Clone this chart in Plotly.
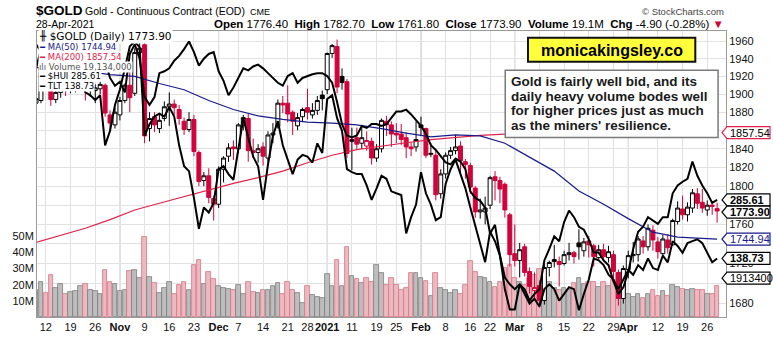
import numpy as np
import pandas as pd
import plotly.graph_objects as go

# ---------------- trading calendar (CME gold, EOD) ----------------
holidays = {"2020-11-26", "2020-12-25", "2021-01-01", "2021-01-18", "2021-02-15", "2021-04-02"}
dates = [d.strftime("%Y-%m-%d") for d in pd.bdate_range("2020-10-08", "2021-04-28")
         if d.strftime("%Y-%m-%d") not in holidays]

# ---------------- $GOLD daily OHLC ----------------
open_ = [1890, 1893, 1928, 1925, 1894, 1902, 1908, 1905, 1912, 1914, 1928, 1904, 1904, 1906, 1910, 1877, 1866,
         1877, 1893, 1910, 1901, 1947, 1956, 1862, 1875, 1862, 1873, 1886, 1889, 1883, 1870, 1861, 1872, 1836, 1806, 1811, 1787,
         1781, 1818, 1832, 1842, 1840, 1866, 1873, 1838, 1836, 1842, 1830, 1855, 1864, 1890, 1890, 1880, 1865, 1875, 1885, 1877, 1882, 1899,
         1905, 1946, 1954, 1920, 1914, 1848, 1852, 1846, 1843, 1848, 1830, 1840, 1870, 1866, 1857, 1856, 1852, 1842, 1842,
         1866, 1862, 1834, 1833, 1792, 1813, 1833, 1838, 1843, 1826, 1822, 1798, 1773, 1773, 1780, 1810, 1806, 1802, 1770,
         1730, 1723, 1737, 1712, 1693, 1698, 1683, 1716, 1724, 1722, 1720, 1729, 1731, 1741, 1733, 1743, 1738, 1726, 1734, 1726, 1729, 1711, 1685,
         1714, 1728, 1729, 1743, 1737, 1754, 1742, 1730, 1744, 1739, 1763, 1776, 1770, 1777, 1792, 1783, 1775, 1780, 1776.4]
high = [1903, 1933, 1934, 1929, 1910, 1912, 1912, 1925, 1918, 1933, 1930, 1915, 1911, 1914, 1912, 1882, 1885,
        1897, 1912, 1925, 1952, 1965, 1967, 1880, 1880, 1878, 1892, 1902, 1894, 1888, 1874, 1880, 1877, 1838, 1815, 1819, 1790,
        1821, 1832, 1846, 1849, 1868, 1877, 1878, 1851, 1845, 1847, 1859, 1868, 1894, 1898, 1910, 1882, 1879, 1885, 1906, 1890, 1898, 1904,
        1947, 1957, 1962, 1929, 1917, 1863, 1863, 1866, 1859, 1852, 1845, 1873, 1876, 1870, 1868, 1867, 1858, 1847, 1870,
        1875, 1863, 1846, 1838, 1818, 1836, 1842, 1855, 1848, 1829, 1825, 1800, 1787, 1789, 1811, 1816, 1810, 1804, 1772,
        1760, 1741, 1740, 1716, 1711, 1703, 1720, 1723, 1739, 1727, 1733, 1741, 1733, 1755, 1746, 1748, 1740, 1739, 1740, 1738, 1733, 1714, 1718,
        1733, 1742, 1748, 1748, 1760, 1759, 1747, 1749, 1750, 1766, 1784, 1790, 1783, 1797, 1798, 1797, 1785, 1783, 1782.7]
low = [1882, 1890, 1915, 1887, 1890, 1896, 1898, 1901, 1902, 1905, 1893, 1897, 1890, 1900, 1875, 1860, 1862,
       1871, 1890, 1880, 1898, 1940, 1846, 1848, 1858, 1857, 1870, 1865, 1877, 1866, 1855, 1858, 1832, 1800, 1800, 1782, 1764,
       1777, 1804, 1826, 1828, 1835, 1860, 1826, 1830, 1825, 1822, 1826, 1846, 1862, 1879, 1869, 1855, 1860, 1870, 1872, 1873, 1877, 1882,
       1900, 1941, 1901, 1905, 1830, 1817, 1840, 1840, 1838, 1823, 1826, 1836, 1854, 1842, 1846, 1844, 1830, 1832, 1837,
       1854, 1830, 1831, 1785, 1787, 1808, 1829, 1834, 1815, 1808, 1792, 1767, 1766, 1760, 1776, 1785, 1782, 1767, 1717,
       1717, 1706, 1707, 1690, 1685, 1676, 1679, 1707, 1716, 1697, 1718, 1723, 1720, 1724, 1727, 1726, 1717, 1723, 1722, 1721, 1705, 1678, 1680,
       1705, 1721, 1722, 1730, 1733, 1733, 1725, 1728, 1730, 1738, 1760, 1765, 1763, 1772, 1776, 1772, 1769, 1770, 1761.8]
close = [1895, 1930, 1926, 1894, 1902, 1908, 1906, 1912, 1916, 1929, 1905, 1906, 1907, 1911, 1879, 1868, 1880,
         1893, 1910, 1896, 1947, 1952, 1854, 1873, 1866, 1871, 1886, 1889, 1885, 1873, 1861, 1872, 1837, 1805, 1811, 1788, 1781,
         1818, 1830, 1841, 1840, 1866, 1874, 1838, 1836, 1840, 1832, 1855, 1857, 1890, 1888, 1878, 1870, 1874, 1883, 1880, 1882, 1893, 1895,
         1946, 1955, 1908, 1913, 1835, 1850, 1845, 1852, 1849, 1830, 1840, 1871, 1866, 1856, 1855, 1850, 1842, 1840, 1850,
         1863, 1833, 1835, 1791, 1813, 1833, 1838, 1842, 1827, 1823, 1799, 1773, 1775, 1777, 1809, 1806, 1797, 1775, 1729,
         1723, 1734, 1711, 1697, 1696, 1683, 1716, 1721, 1722, 1719, 1729, 1731, 1727, 1737, 1742, 1739, 1727, 1734, 1727, 1732, 1712, 1685, 1715,
         1728, 1729, 1745, 1737, 1756, 1744, 1732, 1745, 1736, 1764, 1777, 1770, 1778, 1793, 1782, 1777, 1780, 1778.8, 1773.9]

# daily volume, millions of contracts
volume_m = [17, 22, 15, 26, 18, 20.6, 14, 15.5, 16, 19.5, 20.5, 16.5, 16, 14.5, 29, 22, 20.5,
            16, 17, 28.4, 29, 24, 49.4, 25, 21, 15, 18, 22, 14, 20, 21.5, 17, 32, 35.4, 20.5, 28, 23.5,
            19, 18, 17.5, 16.5, 20, 14.5, 22, 15.5, 15, 16.5, 16.5, 19, 21, 14.5, 22, 16.5, 15, 8.5, 19, 13.5, 12.5, 12,
            26.5, 19.5, 35.4, 19.5, 43.4, 25.5, 23.5, 21, 24.5, 22, 32.5, 27, 20, 24, 20, 16.5, 18, 27, 27,
            24, 22.5, 13, 27, 18, 17, 15, 17, 14, 20, 34.6, 28, 25, 24.5, 22, 18.5, 22, 30.5, 32,
            24, 22, 20, 24, 26, 30, 24, 22, 18, 17, 18, 16.5, 21, 24.5, 20.5, 22, 21.5, 18.5, 22, 19, 23, 27, 20.5,
            14, 12.5, 14.5, 11.7, 14, 16.5, 13, 16, 13, 19.6, 18.5, 17.5, 17, 17.5, 16.5, 17, 14, 14.5, 19.134]

# overlays: gold miners index and 20+yr Treasury ETF
hui = [339.0, 346.8, 344.9, 335.9, 338.3, 335.1, 333.2, 330.5, 332.0, 337.1, 329.3, 328.1, 326.2, 328.1, 307.8, 313.7, 324.2,
       330.5, 339.0, 348.0, 350.0, 347.6, 311.7, 316.4, 319.5, 320.7, 319.5, 323.4, 319.5, 307.8, 299.3, 297.3, 286.4, 273.9, 282.5, 280.5, 284.4,
       298.1, 299.3, 296.1, 293.8, 307.1, 318.8, 311.0, 303.2, 299.3, 285.6, 300.0, 311.7, 317.6, 307.8, 302.0, 296.1, 302.0, 303.9, 303.2, 300.8, 308.6, 304.7,
       326.6, 328.1, 318.8, 313.7, 298.1, 296.9, 296.1, 296.1, 291.5, 285.6, 290.3, 295.4, 294.2, 289.1, 288.3, 287.6, 272.0, 278.6, 283.7,
       296.9, 288.3, 283.7, 277.4, 278.6, 292.2, 298.1, 302.0, 296.1, 290.3, 282.5, 274.7, 268.1, 260.3, 272.7, 268.8, 263.0, 249.3, 241.1,
       241.1, 251.3, 249.3, 244.7, 247.4, 249.3, 261.0, 265.7, 270.8, 268.8, 276.6, 281.3, 278.6, 274.7, 273.5, 269.6, 264.2, 264.2, 261.0, 259.1, 252.5, 247.4, 250.1,
       256.4, 265.7, 272.7, 274.7, 278.6, 277.4, 275.9, 278.6, 278.6, 288.3, 291.5, 293.0, 294.2, 301.2, 295.4, 291.5, 288.3, 284.4, 285.61]
tlt = [159.25, 158.60, 158.97, 160.35, 160.44, 160.17, 159.52, 159.06, 158.14, 156.95, 155.57, 156.03, 157.13, 158.14, 157.68, 156.03, 155.29,
       155.66, 154.65, 158.33, 159.25, 157.87, 154.19, 153.45, 154.19, 156.49, 156.67, 156.95, 157.68, 158.14, 158.79, 159.52, 158.51, 157.22, 157.87, 158.33, 158.51,
       156.67, 155.75, 154.37, 155.11, 156.03, 156.95, 156.76, 157.13, 157.31, 156.95, 156.49, 156.03, 155.57, 155.29, 156.21, 156.49, 155.57, 156.03, 156.21, 156.39, 156.49, 156.49,
       156.21, 155.57, 153.73, 151.61, 150.51, 150.32, 150.51, 151.43, 151.24, 151.61, 151.61, 151.43, 151.61, 152.16, 152.81, 152.81, 152.99, 152.53, 151.98,
       151.43, 150.69, 149.59, 149.13, 148.48, 147.93, 147.75, 148.30, 148.02, 147.29, 145.17, 144.53, 144.25, 143.61, 141.12, 141.95, 139.01, 136.89, 136.25,
       135.79, 136.25, 135.33, 134.41, 134.87, 134.13, 135.79, 136.25, 135.79, 134.68, 135.33, 135.97, 135.79, 133.76, 135.33, 136.71, 138.73, 138.55, 138.09, 137.17, 136.71, 135.79, 136.71,
       137.63, 137.17, 138.09, 137.63, 138.73, 137.81, 137.63, 139.01, 138.36, 140.39, 139.93, 139.28, 140.20, 140.39, 140.57, 140.20, 139.28, 138.36, 138.73]

# moving averages, weekly readings
ma_dates = ["2020-10-08", "2020-10-15", "2020-10-22", "2020-10-29", "2020-11-05", "2020-11-12", "2020-11-19", "2020-11-27",
            "2020-12-04", "2020-12-11", "2020-12-18", "2020-12-28", "2021-01-05", "2021-01-12", "2021-01-20", "2021-01-27",
            "2021-02-03", "2021-02-10", "2021-02-18", "2021-02-25", "2021-03-04", "2021-03-11", "2021-03-18", "2021-03-25",
            "2021-04-01", "2021-04-09", "2021-04-16", "2021-04-23", "2021-04-28"]
ma50 = [1930, 1928, 1926, 1922, 1920, 1912, 1905, 1893, 1883, 1876, 1872, 1869, 1868, 1866, 1862, 1857,
        1853, 1855, 1854, 1846, 1831, 1816, 1795, 1781, 1766, 1752, 1747, 1745.5, 1744.94]
ma200 = [1741.5, 1749, 1756, 1765, 1775, 1782, 1789, 1796.5, 1803, 1809, 1816, 1825, 1833, 1839, 1843, 1846.5,
         1850, 1852.5, 1854.5, 1856, 1857, 1857.8, 1858.3, 1858.6, 1858.7, 1858.5, 1858.2, 1857.8, 1857.54]

# x-axis labels
tick_dates = ["2020-10-12", "2020-10-19", "2020-10-26", "2020-11-02", "2020-11-09", "2020-11-16", "2020-11-23",
              "2020-12-01", "2020-12-07", "2020-12-14", "2020-12-21", "2020-12-28", "2021-01-04", "2021-01-11",
              "2021-01-19", "2021-01-25", "2021-02-01", "2021-02-08", "2021-02-16", "2021-02-22", "2021-03-01",
              "2021-03-08", "2021-03-15", "2021-03-22", "2021-03-29", "2021-04-01", "2021-04-12", "2021-04-19", "2021-04-26"]
tick_text = ["12", "19", "26", "<b>Nov</b>", "9", "16", "23", "<b>Dec</b>", "7", "14", "21", "28", "<b>2021</b>", "11",
             "19", "25", "<b>Feb</b>", "8", "16", "22", "<b>Mar</b>", "8", "15", "22", "29", "<b>Apr</b>", "12", "19", "26"]
month_starts = ["2020-11-02", "2020-12-01", "2021-01-04", "2021-02-01", "2021-03-01", "2021-04-01"]

# price scale; labels that sit under the value tags are left blank
price_ticks = list(range(1680, 1961, 20))
price_labels = ["" if v in (1700, 1740, 1780, 1860) else str(v) for v in price_ticks]

assert len(dates) == len(close) == len(volume_m) == len(hui) == len(tlt)

# ---------------- geometry helpers ----------------
W, H = 773, 345
ML, MR, MT, MB = 30, 47, 31, 16
PW, PH = W - ML - MR, H - MT - MB


def px(x):
    return (x - ML) / PW


def py(y):
    return 1 - (y - MT) / PH


RED = "#d0033a"
NAVY = "#1a1a8c"
MA_RED = "#e0224a"
AX_FONT = "Liberation Sans"

n = len(dates)
prev_close = [close[0]] + close[:-1]
up_day = [c >= p for c, p in zip(close, prev_close)]
hollow = [c >= o for c, o in zip(close, open_)]

fig = go.Figure()

# volume (base axis, drawn underneath)
fig.add_trace(go.Bar(
    x=dates, y=volume_m, yaxis="y", width=0.94,
    marker=dict(color=["#bdbdbd" if u else "#ebb9c0" for u in up_day],
                line=dict(color=["#7d7d7d" if u else "#d97384" for u in up_day], width=0.8)),
    hoverinfo="skip"))

# moving averages
fig.add_trace(go.Scatter(x=ma_dates, y=ma200, yaxis="y2", mode="lines",
                         line=dict(color=MA_RED, width=1.2), hoverinfo="skip"))
fig.add_trace(go.Scatter(x=ma_dates, y=ma50, yaxis="y2", mode="lines",
                         line=dict(color=NAVY, width=1.2), hoverinfo="skip"))


def candles(sel, line_color, fill):
    style = dict(line=dict(color=line_color, width=1), fillcolor=fill)
    return go.Candlestick(
        x=[dates[i] for i in sel], open=[open_[i] for i in sel], high=[high[i] for i in sel],
        low=[low[i] for i in sel], close=[close[i] for i in sel],
        increasing=style, decreasing=style, whiskerwidth=0, yaxis="y2", hoverinfo="skip")


fig.add_trace(candles([i for i in range(n) if hollow[i] and up_day[i]], "#000000", "#ffffff"))
fig.add_trace(candles([i for i in range(n) if hollow[i] and not up_day[i]], RED, "#ffffff"))
fig.add_trace(candles([i for i in range(n) if not hollow[i] and up_day[i]], "#000000", "#000000"))
fig.add_trace(candles([i for i in range(n) if not hollow[i] and not up_day[i]], RED, RED))

# overlays
fig.add_trace(go.Scatter(x=dates, y=hui, yaxis="y3", mode="lines",
                         line=dict(color="#000000", width=2), hoverinfo="skip"))
fig.add_trace(go.Scatter(x=dates, y=tlt, yaxis="y4", mode="lines",
                         line=dict(color="#000000", width=2), hoverinfo="skip"))

shapes = []
annotations = []

# darker month separators
for d in month_starts:
    k = dates.index(d)
    shapes.append(dict(type="line", xref="x", yref="paper", x0=k, x1=k, y0=0, y1=1,
                       line=dict(color="#b4b4b4", width=1), layer="below"))


def note(text, x, y, size=11, color="#000", family=AX_FONT, xanchor="left", bg=None):
    a = dict(text=text, xref="paper", yref="paper", x=px(x), y=py(y), xanchor=xanchor,
             yanchor="middle", showarrow=False, font=dict(family=family, size=size, color=color))
    if bg:
        a.update(bgcolor=bg, borderpad=0)
    annotations.append(a)


# header
note("<b>$GOLD</b>", 27, 10, size=13.5)
note("Gold - Continuous Contract (EOD)", 76, 10.5, size=10.5)
note("CME", 243, 11, size=9)
note("© StockCharts.com", 726, 10.5, size=9.5, color="#444", xanchor="right")
note("28-Apr-2021", 27, 23.5, size=10.5)
last_chg = close[-1] - close[-2]
ohlc_txt = ("<b>Open</b> %.2f  <b>High</b> %.2f  <b>Low</b> %.2f  <b>Close</b> %.2f  <b>Volume</b> %.1fM  "
            "<b>Chg</b> %.2f (%.2f%%) <span style='color:%s'>▼</span>"
            % (open_[-1], high[-1], low[-1], close[-1], volume_m[-1], last_chg, 100 * last_chg / close[-2], RED))
note(ohlc_txt, 726, 23.5, size=11.5, xanchor="right")

# in-panel legend
LEG = "DejaVu Sans"
note("<b>╫</b> $GOLD (Daily) %.2f" % close[-1], 31, 36.7, size=10.5, family=LEG, bg="white")
note("<span style='color:%s'><b>━</b></span> MA(50) %.2f" % (NAVY, ma50[-1]), 31, 47.7, size=8.5,
     color=NAVY, family=LEG, bg="white")
note("<span style='color:%s'><b>━</b></span> MA(200) %.2f" % (MA_RED, ma200[-1]), 31, 58.3, size=8.5,
     color=MA_RED, family=LEG, bg="white")
note("ılı Volume {:,}".format(int(round(volume_m[-1] * 1e6))), 31, 68.3, size=8.5, color="#555",
     family=LEG, bg="white")
note("<b>━</b> $HUI %.2f" % hui[-1], 31, 78.3, size=8.5, family=LEG, bg="white")
note("<b>━</b> TLT %.2f" % tlt[-1], 31, 88.3, size=8.5, family=LEG, bg="white")

# site badge and commentary box
shapes.append(dict(type="rect", xref="paper", yref="paper", x0=px(526), x1=px(695), y0=py(63), y1=py(38),
                   fillcolor="#ffff3c", line=dict(color="#111", width=2), layer="above"))
note("<b>monicakingsley.co</b>", 610.5, 51, size=16, xanchor="center")
shapes.append(dict(type="rect", xref="paper", yref="paper", x0=px(503), x1=px(718), y0=py(142), y1=py(72),
                   fillcolor="#ffffff", line=dict(color="#7a7a7a", width=1.5), layer="above"))
for k, line in enumerate(["Gold is fairly well bid, and its", "daily heavy volume bodes well",
                          "for higher prices just as much", "as the miners' resilience."]):
    note("<b>%s</b>" % line, 507, 83.5 + 15.3 * k, size=13.5, color="#1a1a1a")


# right-edge value tags
def tag(yref, value, text, border, bold, log=False, shift=0, color="#000"):
    shapes.append(dict(type="path", xref="paper", yref=yref, xsizemode="pixel", ysizemode="pixel",
                       xanchor=1, yanchor=value,
                       path="M-4,%d L1,%d L44,%d L44,%d L1,%d Z" % (shift, shift - 6, shift - 6, shift + 6, shift + 6),
                       line=dict(color=border, width=1.2), fillcolor="white", layer="above"))
    annotations.append(dict(text="<b>%s</b>" % text if bold else text, xref="paper", yref=yref, x=1,
                            y=np.log10(value) if log else value, xanchor="left", yanchor="middle",
                            xshift=2, yshift=shift, showarrow=False,
                            font=dict(family=AX_FONT, size=11, color=color)))


tag("y2", ma200[-1], "%.2f" % ma200[-1], MA_RED, False, log=True)
tag("y3", hui[-1], "%.2f" % hui[-1], "#000", True)
tag("y2", close[-1], "%.2f" % close[-1], "#000", True, log=True, shift=-1)
tag("y2", ma50[-1], "%.2f" % ma50[-1], NAVY, False, log=True, color=NAVY)
tag("y4", tlt[-1], "%.2f" % tlt[-1], "#000", True)
tag("y", volume_m[-1], str(int(round(volume_m[-1] * 1e6)))[:7], "#000", False, shift=8)

grid = "#e2e2e2"
fig.update_layout(
    width=W, height=H, margin=dict(l=ML, r=MR, t=MT, b=MB),
    paper_bgcolor="white", plot_bgcolor="white", showlegend=False,
    boxmode="overlay", boxgap=0.2, boxgroupgap=0, bargap=0,
    xaxis=dict(type="category", categoryorder="array", categoryarray=dates, range=[0.2, 139.8],
               tickmode="array", tickvals=tick_dates, ticktext=tick_text, tickangle=0,
               tickfont=dict(family=AX_FONT, size=11, color="#111"),
               showgrid=True, gridcolor=grid, gridwidth=1, showline=True, linecolor="#9a9a9a",
               mirror=True, ticks="", rangeslider=dict(visible=False), fixedrange=True),
    yaxis=dict(range=[0, 177.4], tickmode="array", tickvals=[10, 20, 30, 40, 50],
               ticktext=["10M", "20M", "30M", "40M", "50M"], side="left", showgrid=False, zeroline=False,
               showline=True, linecolor="#9a9a9a", ticks="", tickfont=dict(family=AX_FONT, size=11, color="#111"),
               fixedrange=True),
    yaxis2=dict(overlaying="y", side="right", type="log", range=[3.22188, 3.29488], tickmode="array",
                tickvals=price_ticks, ticktext=price_labels, showgrid=True, gridcolor=grid,
                showline=True, linecolor="#9a9a9a", ticks="", zeroline=False,
                tickfont=dict(family=AX_FONT, size=11, color="#111"), fixedrange=True),
    yaxis3=dict(overlaying="y", range=[238.03, 354.25], visible=False, fixedrange=True),
    yaxis4=dict(overlaying="y", range=[133.12, 160.53], visible=False, fixedrange=True),
    shapes=shapes, annotations=annotations,
)

fig.write_html("out.html")
